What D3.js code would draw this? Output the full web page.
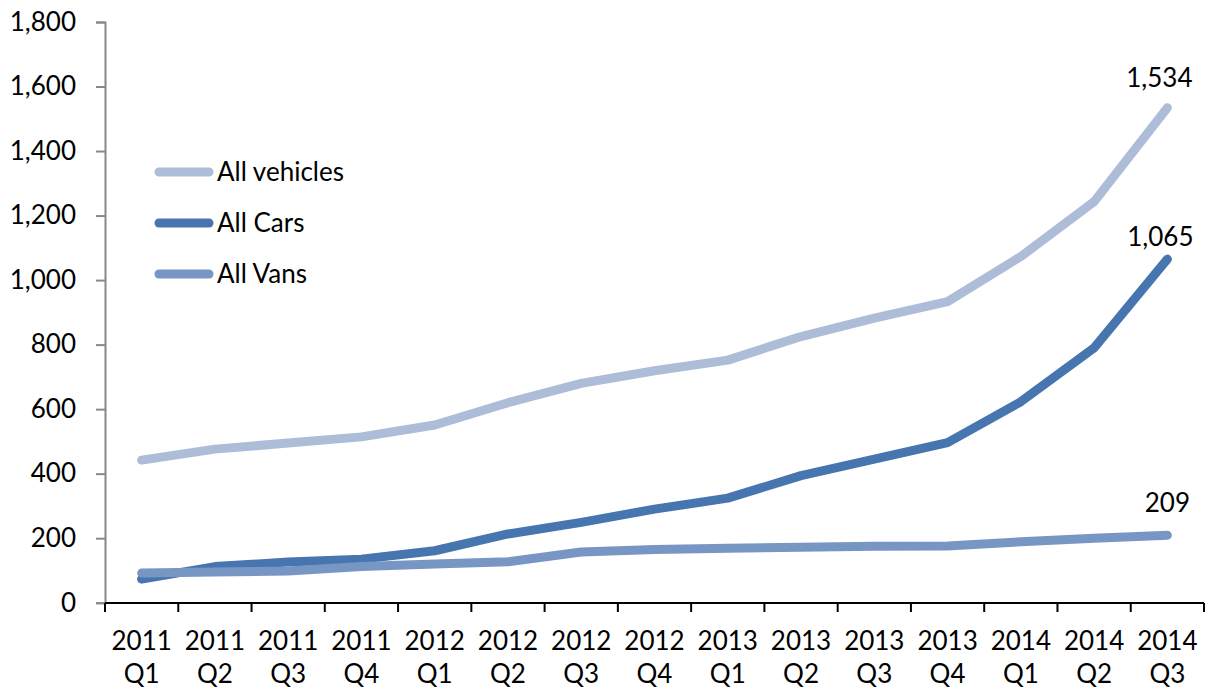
<!DOCTYPE html>
<html><head><meta charset="utf-8">
<script src="https://cdn.jsdelivr.net/npm/d3@7"></script>
<style>body{margin:0;background:#fff}svg{display:block}text{font-family:Lato,"Open Sans",sans-serif;fill:#000}</style>
</head><body>
<svg id="c" width="1209" height="690"></svg>
<script>
const years = ["2011","2011","2011","2011","2012","2012","2012","2012","2013","2013","2013","2013","2014","2014","2014"];
const quarters = ["Q1","Q2","Q3","Q4","Q1","Q2","Q3","Q4","Q1","Q2","Q3","Q4","Q1","Q2","Q3"];
const allVehicles = [442,476,495,514,551,620,680,719,752,825,882,933,1073,1243,1534];
const allCars = [73,112,126,135,161,213,249,290,324,394,445,496,623,790,1065];
const allVans = [92,95,98,112,120,127,157,165,169,172,175,176,189,200,209];
const yTicks = [0,200,400,600,800,1000,1200,1400,1600,1800];
const seriesNames = ["All vehicles","All Cars","All Vans"];
const colors = ["#adbdd8","#4675af","#7896c4"];

const svg = d3.select("#c");
const idx = d3.range(years.length);
const x = d3.scaleBand().domain(idx).range([105,1204]).padding(0);
const y = d3.scaleLinear().domain([0,1800]).range([602.7,22]);
const fmt = d3.format(",");
const FS = "26px";

// Y axis
const ya = svg.append("g").attr("transform","translate(105,0)")
  .call(d3.axisLeft(y).tickValues(yTicks).tickFormat(fmt).tickSize(9).tickPadding(20));
ya.select(".domain").attr("stroke","#888").attr("stroke-width",2);
ya.selectAll(".tick line").attr("stroke","#888").attr("stroke-width",2);
ya.selectAll(".tick text").style("font-family","Lato, sans-serif").style("font-size",FS).attr("fill","#000");

// X axis
const xa = svg.append("g").attr("transform","translate(0,603)");
xa.append("line").attr("x1",105).attr("x2",1204).attr("stroke","#000").attr("stroke-width",2);
const edges = idx.map(i=>x(i)).concat([x(idx[idx.length-1])+x.bandwidth()]);
xa.selectAll("line.t").data(edges).join("line").attr("class","t")
  .attr("x1",d=>d).attr("x2",d=>d).attr("y1",0).attr("y2",9).attr("stroke","#000").attr("stroke-width",2);
const lab = xa.selectAll("text.l").data(idx).join("text").attr("class","l")
  .attr("text-anchor","middle").style("font-size",FS)
  .attr("x",i=>x(i)+x.bandwidth()/2);
lab.append("tspan").attr("x",i=>x(i)+x.bandwidth()/2).attr("y",47).text(i=>years[i]);
lab.append("tspan").attr("x",i=>x(i)+x.bandwidth()/2).attr("y",80).text(i=>quarters[i]);

// Lines
const series = [allVehicles, allCars, allVans];
const line = d3.line().x((d,i)=>x(i)+x.bandwidth()/2).y(d=>y(d));
series.forEach((s,k)=>{
  svg.append("path").datum(s).attr("d",line).attr("fill","none")
    .attr("stroke",colors[k]).attr("stroke-width",9)
    .attr("stroke-linecap","round").attr("stroke-linejoin","round");
});

// End labels
const last = idx.length-1;
const labOff = [[-8,-21],[-7,-13],[0,-23]];
series.forEach((s,k)=>{
  svg.append("text").attr("text-anchor","middle").style("font-size",FS)
    .attr("x",x(last)+x.bandwidth()/2+labOff[k][0]).attr("y",y(s[last])+labOff[k][1])
    .text(fmt(s[last]));
});

// Legend
const lg = svg.append("g");
seriesNames.forEach((n,k)=>{
  const ly = 172 + k*51;
  lg.append("line").attr("x1",159).attr("x2",209).attr("y1",ly).attr("y2",ly)
    .attr("stroke",colors[k]).attr("stroke-width",9).attr("stroke-linecap","round");
  lg.append("text").attr("x",217).attr("y",ly+9).style("font-size",FS).text(n);
});
</script>
</body></html>
